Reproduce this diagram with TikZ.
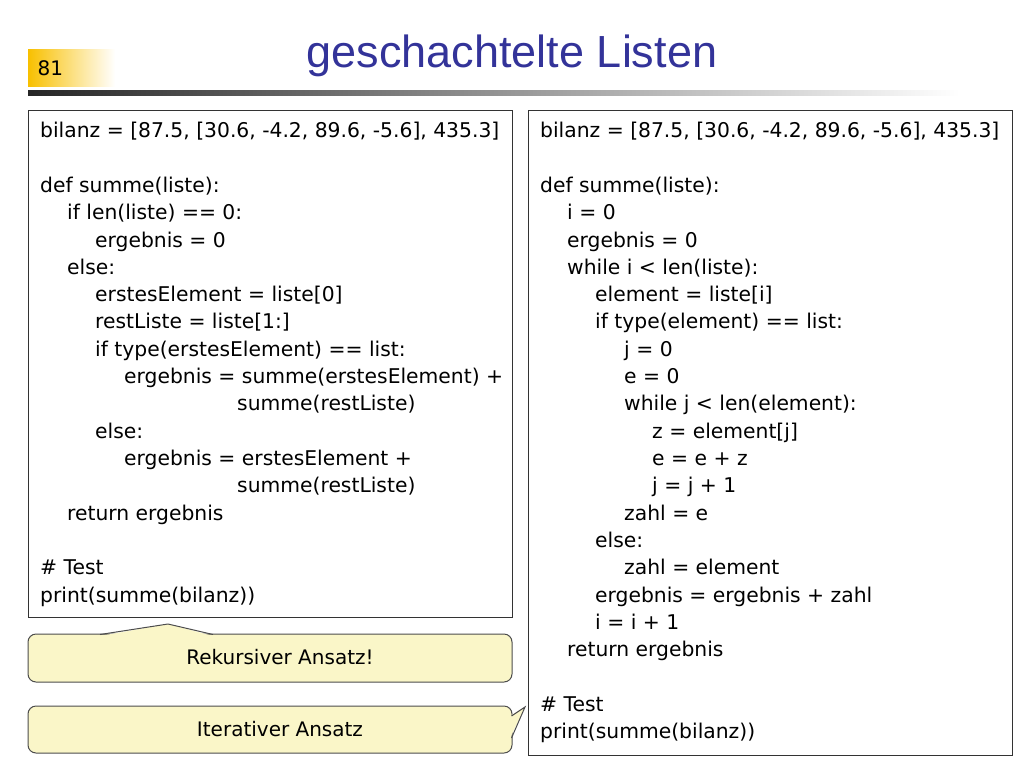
\documentclass[tikz,border=0pt]{standalone}
\usepackage{fontspec}
\setmainfont{Liberation Sans}
\newfontfamily\codefont{DejaVu Sans}
\usetikzlibrary{positioning}
\definecolor{titleblue}{HTML}{333399}
\definecolor{notefill}{HTML}{FAF6C8}
\definecolor{badgeorange}{HTML}{F8C000}
\tikzset{
  codebox/.style={draw=black!80,line width=1pt},
  code/.style={anchor=base west,inner sep=0pt,font=\codefont\fontsize{20.3}{22}\selectfont},
  notebox/.style={draw=black!70,line width=1pt,fill=notefill,rounded corners=8pt},
  notetext/.style={font=\codefont\fontsize{20}{22}\selectfont}
}
\newcommand{\cl}[4]{\node[code] (#1) at ({#2},#3) {#4};}
\begin{document}
\begin{tikzpicture}[x=1pt,y=-1pt]
\useasboundingbox (0,0) rectangle (1024,768);
% header
\fill[left color=badgeorange,right color=white] (28,50) rectangle (115,86);
\node[anchor=west,font=\codefont\fontsize{20}{22}\selectfont] (page) at (34,68) {81};
\node[text=titleblue,font=\fontsize{45}{50}\selectfont] (title) at (512,56) {geschachtelte Listen};
\fill[left color=black!85,right color=white] (28,90) rectangle (960,95);
% left listing
\draw[codebox] (28,110) rectangle (512,617);
\cl{l1}{40}{137}{bilanz = [87.5, [30.6, -4.2, 89.6, -5.6], 435.3]}
\cl{l2}{40}{192}{def summe(liste):}
\cl{l3}{67}{219}{if len(liste) == 0:}
\cl{l4}{95}{247}{ergebnis = 0}
\cl{l5}{67}{274}{else:}
\cl{l6}{95}{301}{erstesElement = liste[0]}
\cl{l7}{95}{328}{restListe = liste[1:]}
\cl{l8}{95}{356}{if type(erstesElement) == list:}
\cl{l9}{124}{383}{ergebnis = summe(erstesElement) +}
\cl{l10}{237}{410}{summe(restListe)}
\cl{l11}{95}{438}{else:}
\cl{l12}{124}{465}{ergebnis = erstesElement +}
\cl{l13}{237}{492}{summe(restListe)}
\cl{l14}{67}{520}{return ergebnis}
\cl{l15}{40}{574}{\# Test}
\cl{l16}{40}{602}{print(summe(bilanz))}
% right listing
\draw[codebox] (528,110) rectangle (1012,755);
\cl{r1}{540}{137}{bilanz = [87.5, [30.6, -4.2, 89.6, -5.6], 435.3]}
\cl{r2}{540}{192}{def summe(liste):}
\cl{r3}{567}{219}{i = 0}
\cl{r4}{567}{247}{ergebnis = 0}
\cl{r5}{567}{274}{while i < len(liste):}
\cl{r6}{595}{301}{element = liste[i]}
\cl{r7}{595}{328}{if type(element) == list:}
\cl{r8}{624}{356}{j = 0}
\cl{r9}{624}{383}{e = 0}
\cl{r10}{624}{410}{while j < len(element):}
\cl{r11}{652}{438}{z = element[j]}
\cl{r12}{652}{465}{e = e + z}
\cl{r13}{652}{492}{j = j + 1}
\cl{r14}{624}{520}{zahl = e}
\cl{r15}{595}{547}{else:}
\cl{r16}{624}{574}{zahl = element}
\cl{r17}{595}{602}{ergebnis = ergebnis + zahl}
\cl{r18}{595}{629}{i = i + 1}
\cl{r19}{567}{656}{return ergebnis}
\cl{r20}{540}{711}{\# Test}
\cl{r21}{540}{738}{print(summe(bilanz))}
% callouts
\draw[notebox] (28,634) rectangle (512,682);
\fill[notefill] (100,636) -- (168,624) -- (213,636) -- cycle;
\draw[black!70,line width=1pt] (100,634.5) -- (168,624) -- (213,634.5);
\node[notetext] (rek) at (280,657) {Rekursiver Ansatz!};
\draw[notebox] (28,706) rectangle (512,753);
\fill[notefill] (510,716) -- (525,707) -- (510,738) -- cycle;
\draw[black!70,line width=1pt] (511.5,716) -- (525,707) -- (511.5,738);
\node[notetext] (iter) at (280,729) {Iterativer Ansatz};
\end{tikzpicture}
\end{document}
